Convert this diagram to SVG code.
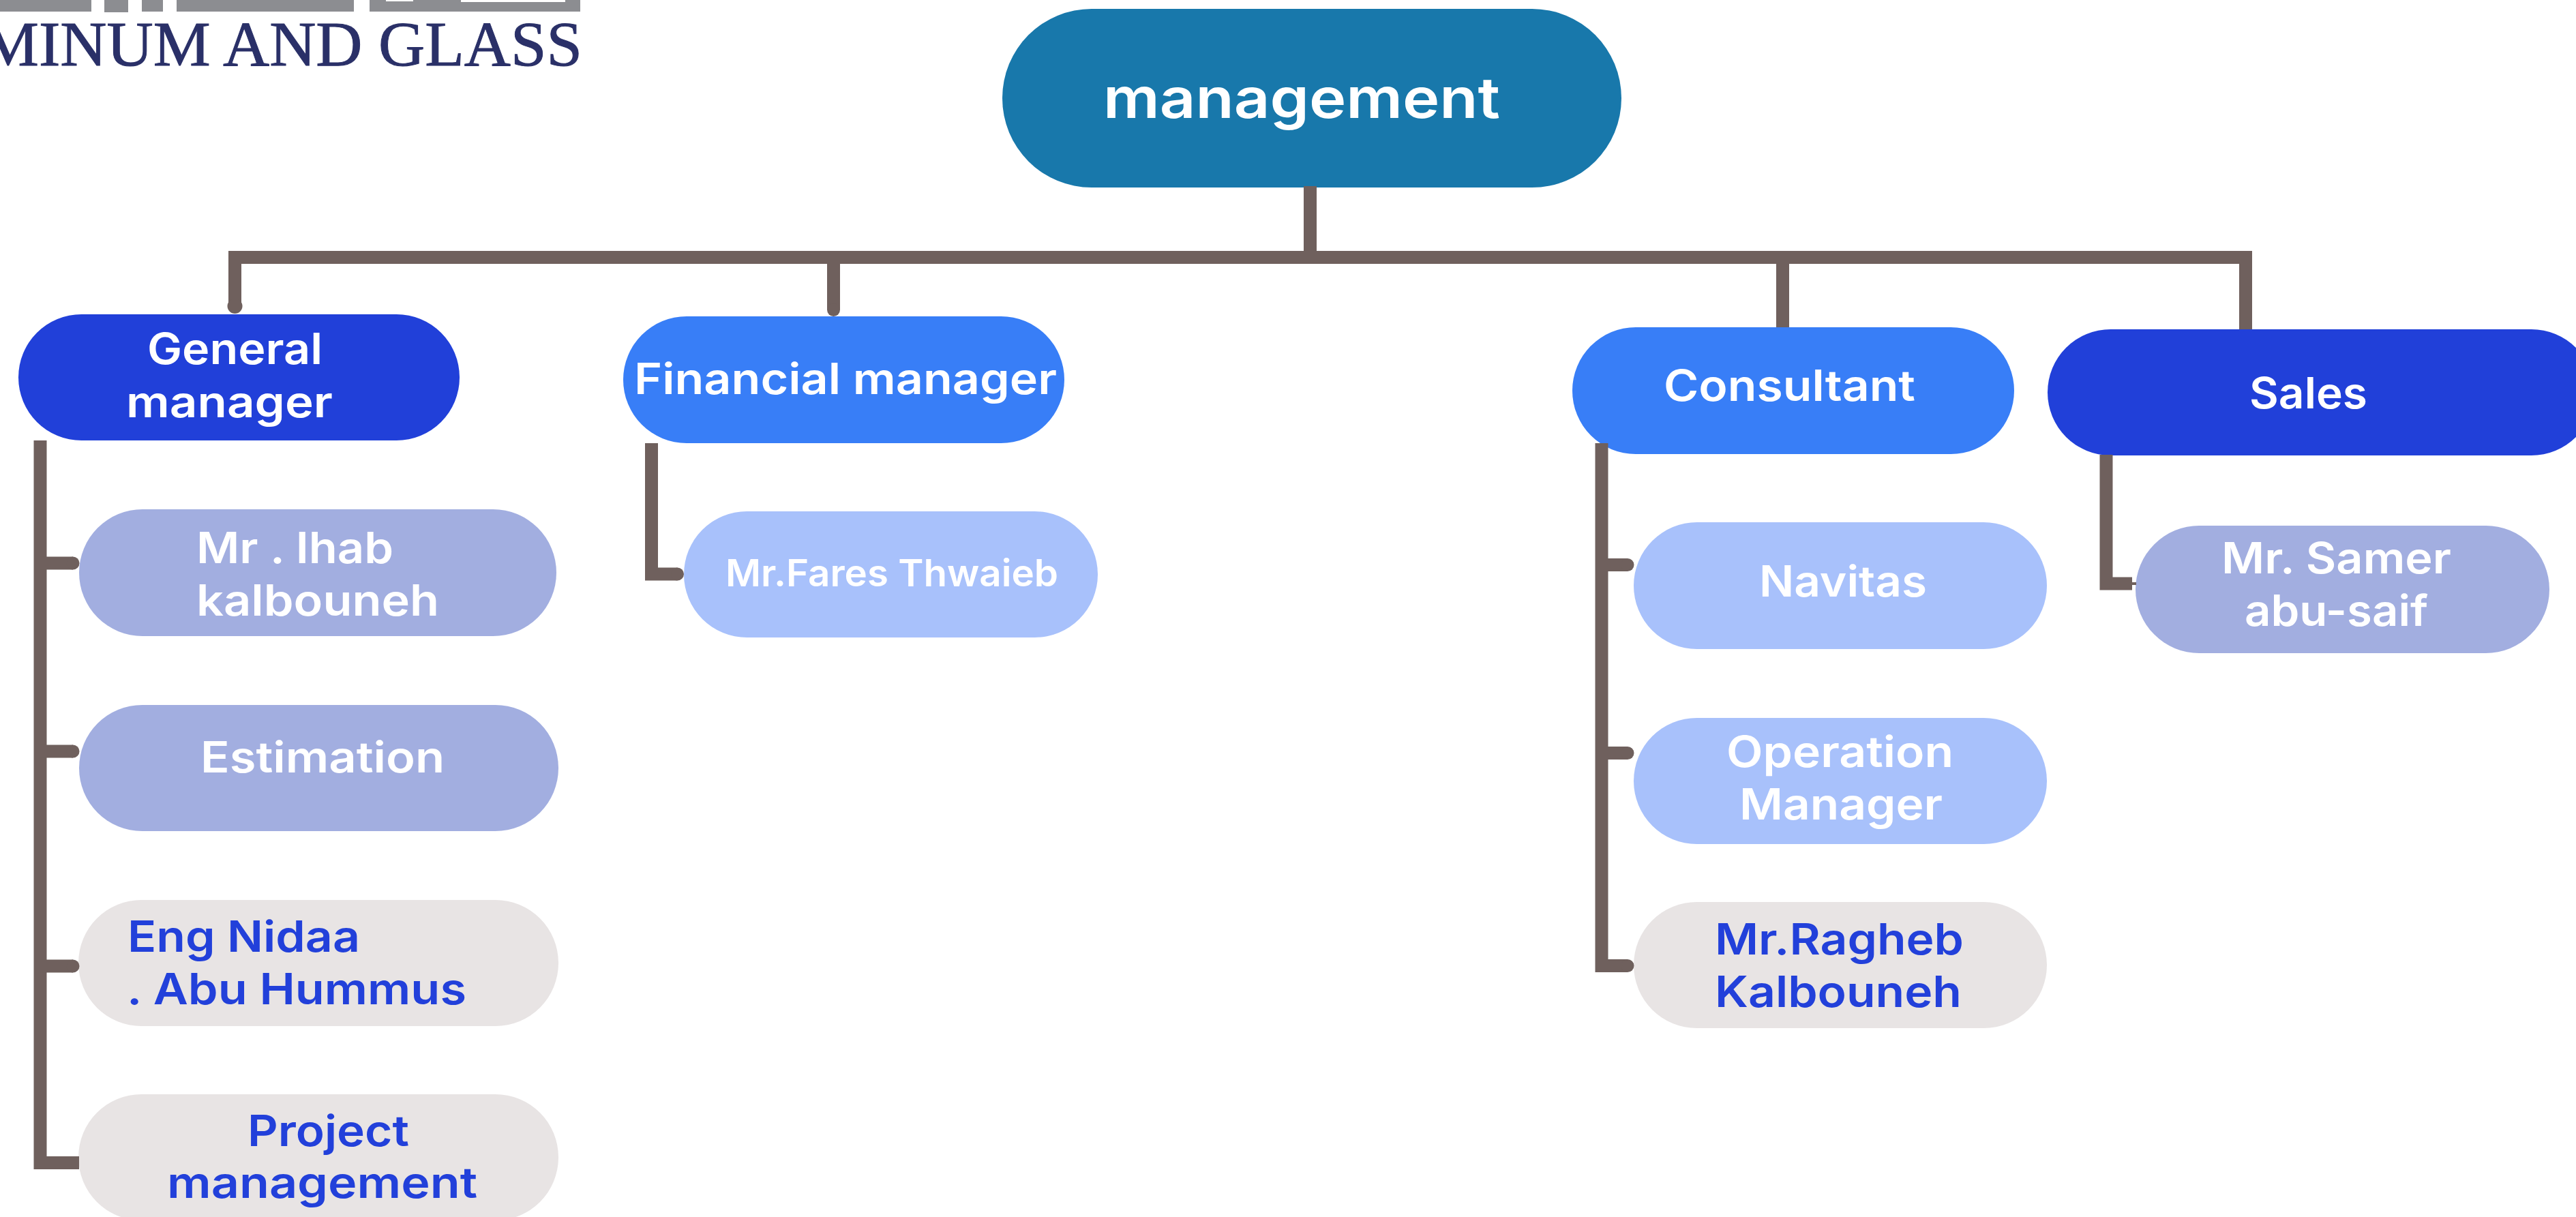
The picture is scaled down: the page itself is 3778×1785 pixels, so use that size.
<svg xmlns="http://www.w3.org/2000/svg" width="3778" height="1785" viewBox="0 0 3778 1785">
<style>
text{font-family:"Inter","Noto Sans","Liberation Sans",sans-serif;font-weight:600;font-size:63px;fill:#fff}
text.d{fill:#2240da}
text.l{font-family:"Liberation Serif",serif;font-weight:400;font-size:94px;fill:#2a3068;stroke:#2a3068;stroke-width:1}
.c{fill:none;stroke:#6f605d;stroke-width:19}
.k1{fill:#2140d9}.k2{fill:#387ef7}.k3{fill:#a8c1fb}.k4{fill:#a2aee0}.k5{fill:#e8e4e4}
.g{fill:#8c8d91}
</style>
<defs>
<marker id="e" markerUnits="userSpaceOnUse" markerWidth="20" markerHeight="20" refX="10" refY="10"><circle cx="10" cy="10" r="9.5" fill="#6f605d"/></marker>
<marker id="d" markerUnits="userSpaceOnUse" markerWidth="24" markerHeight="24" refX="12" refY="12"><circle cx="12" cy="12" r="11" fill="#6f605d"/></marker>
</defs>
<rect width="3778" height="1785" fill="#fff"/>
<g id="logo">
<rect class="g" x="0" y="0" width="134" height="17"/>
<rect class="g" x="153" y="0" width="35" height="18"/>
<rect class="g" x="208" y="0" width="31" height="17"/>
<rect class="g" x="259" y="0" width="260" height="17"/>
<rect class="g" x="542" y="0" width="309" height="17"/>
<rect x="566" y="0" width="40" height="2" fill="#fff"/>
<rect x="676" y="0" width="153" height="3" fill="#fff"/>
<text class="l" x="-27" y="96" textLength="881" lengthAdjust="spacingAndGlyphs">MINUM AND GLASS</text>
</g>
<g id="n-management"><rect x="1470" y="13" width="908" height="262" rx="131" fill="#1878ab"/><text x="1618" y="173" style="font-size:82px" textLength="582" lengthAdjust="spacingAndGlyphs">management</text></g>
<g id="n-general"><rect class="k1" x="27" y="461" width="647" height="185" rx="92.5"/><text x="216" y="534" textLength="257" lengthAdjust="spacingAndGlyphs">General</text><text x="185" y="612" textLength="303" lengthAdjust="spacingAndGlyphs">manager</text></g>
<g id="n-financial"><rect class="k2" x="914" y="464" width="647" height="186" rx="93"/><text x="930" y="578" textLength="620" lengthAdjust="spacingAndGlyphs">Financial manager</text></g>
<g id="n-consultant"><rect class="k2" x="2306" y="480" width="648" height="186" rx="93"/><text x="2440" y="588" textLength="369" lengthAdjust="spacingAndGlyphs">Consultant</text></g>
<g id="n-sales"><rect class="k1" x="3003" y="483" width="802" height="185" rx="92.5"/><text x="3299" y="599" textLength="173" lengthAdjust="spacingAndGlyphs">Sales</text></g>
<g id="n-ihab"><rect class="k4" x="116" y="747" width="700" height="186" rx="93"/><text x="288" y="826" textLength="289" lengthAdjust="spacingAndGlyphs">Mr . Ihab</text><text x="288" y="903" textLength="356" lengthAdjust="spacingAndGlyphs">kalbouneh</text></g>
<g id="n-estimation"><rect class="k4" x="116" y="1034" width="703" height="185" rx="92.5"/><text x="294" y="1133" textLength="358" lengthAdjust="spacingAndGlyphs">Estimation</text></g>
<g id="n-nidaa"><rect class="k5" x="115" y="1320" width="704" height="185" rx="92.5"/><text class="d" x="187" y="1396" textLength="341" lengthAdjust="spacingAndGlyphs">Eng Nidaa</text><text class="d" x="186" y="1473" textLength="498" lengthAdjust="spacingAndGlyphs">. Abu Hummus</text></g>
<g id="n-project"><rect class="k5" x="115" y="1605" width="704" height="185" rx="92.5"/><text class="d" x="363" y="1681" textLength="237" lengthAdjust="spacingAndGlyphs">Project</text><text class="d" x="245" y="1757" textLength="455" lengthAdjust="spacingAndGlyphs">management</text></g>
<g id="n-fares"><rect class="k3" x="1003" y="750" width="607" height="185" rx="92.5"/><text x="1064" y="860" style="font-size:55px" textLength="488" lengthAdjust="spacingAndGlyphs">Mr.Fares Thwaieb</text></g>
<g id="n-navitas"><rect class="k3" x="2396" y="766" width="606" height="186" rx="93"/><text x="2580" y="875" textLength="246" lengthAdjust="spacingAndGlyphs">Navitas</text></g>
<g id="n-operation"><rect class="k3" x="2396" y="1053" width="606" height="185" rx="92.5"/><text x="2532" y="1125" textLength="333" lengthAdjust="spacingAndGlyphs">Operation</text><text x="2551" y="1202" textLength="298" lengthAdjust="spacingAndGlyphs">Manager</text></g>
<g id="n-ragheb"><rect class="k5" x="2396" y="1323" width="606" height="185" rx="92.5"/><text class="d" x="2515" y="1400" textLength="365" lengthAdjust="spacingAndGlyphs">Mr.Ragheb</text><text class="d" x="2515" y="1477" textLength="362" lengthAdjust="spacingAndGlyphs">Kalbouneh</text></g>
<g id="n-samer"><rect class="k4" x="3132" y="771" width="607" height="187" rx="93.5"/><text x="3258" y="841" textLength="337" lengthAdjust="spacingAndGlyphs">Mr. Samer</text><text x="3292" y="918" textLength="269" lengthAdjust="spacingAndGlyphs">abu-saif</text></g>
<g id="connectors">
<path class="c" d="M1921.5 273V377"/>
<path class="c" d="M3293.5 483V377.5H344.5V449" marker-end="url(#d)"/>
<path class="c" d="M1222.5 377V454.5" marker-end="url(#e)"/>
<path class="c" d="M2614.5 377V480"/>
<path class="c" d="M59 646V1705.5H116"/>
<path class="c" d="M59 826H107" marker-end="url(#e)"/>
<path class="c" d="M59 1102H107" marker-end="url(#e)"/>
<path class="c" d="M59 1417H107" marker-end="url(#e)"/>
<path class="c" d="M955.5 650V842H993.5" marker-end="url(#e)"/>
<path class="c" d="M2349 650V1416.5H2387" marker-end="url(#e)"/>
<path class="c" d="M2349 828.5H2387" marker-end="url(#e)"/>
<path class="c" d="M2349 1104.5H2387" marker-end="url(#e)"/>
<path class="c" d="M3089 667V856H3127"/>
<path d="M3127 856H3133" stroke="#6f605d" stroke-width="4" fill="none"/>
</g>
</svg>
